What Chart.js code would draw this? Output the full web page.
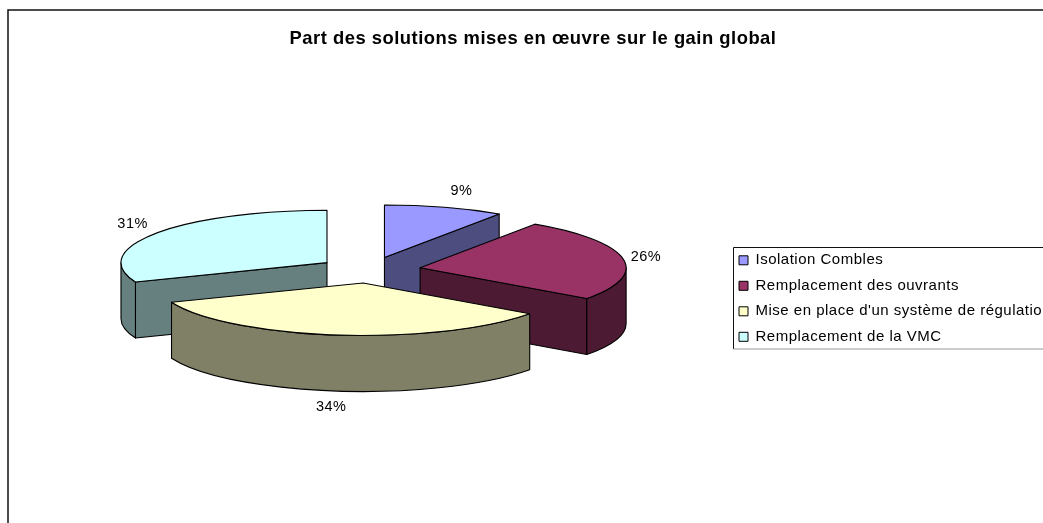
<!DOCTYPE html>
<html>
<head>
<meta charset="utf-8">
<title>Part des solutions mises en œuvre sur le gain global</title>
<script src="https://cdn.jsdelivr.net/npm/chart.js@4"></script>
<style>
html, body { margin: 0; padding: 0; background: #fff; overflow: hidden; }
canvas { display: block; }
</style>
</head>
<body>
<canvas id="pie3d" width="1043" height="523"></canvas>
<script>
var titleText = "Part des solutions mises en œuvre sur le gain global";
var categories = ["Isolation Combles", "Remplacement des ouvrants", "Mise en place d'un système de régulation", "Remplacement de la VMC"];
var percents = [9.4, 25.6, 34, 31];
var topColors = ["#9999FF", "#993366", "#FFFFCC", "#CCFFFF"];
var sideColors = ["#4D4D80", "#4D1A33", "#808066", "#668080"];

// look of the tilted pie
var squash = 0.2546;
var depth = 56;
var explode = 51.4;
var pieRadius = 206;
var labelShift = [[17, -16], [23, -2], [-6, 72], [-24, -9]];

function drawFrame(ctx) {
  ctx.save();
  ctx.strokeStyle = "#111";
  ctx.lineWidth = 1.5;
  ctx.beginPath();
  ctx.moveTo(8, 523);
  ctx.lineTo(8, 10);
  ctx.lineTo(1043, 10);
  ctx.stroke();
  ctx.restore();
}

function drawLegendBox(ctx) {
  ctx.save();
  ctx.lineWidth = 1;
  ctx.strokeStyle = "#111";
  ctx.beginPath();
  ctx.moveTo(733.5, 349);
  ctx.lineTo(733.5, 247.5);
  ctx.lineTo(1043, 247.5);
  ctx.stroke();
  ctx.strokeStyle = "#999";
  ctx.beginPath();
  ctx.moveTo(733.5, 349);
  ctx.lineTo(1043, 349);
  ctx.stroke();
  ctx.restore();
}

// screen y of a point on the flat pie, tilted around the pie centre
function tilt(y, cy) {
  return cy + (y - cy) * squash;
}

function drawSlice(ctx, arc, i, cy) {
  var mid = (arc.startAngle + arc.endAngle) / 2;
  var off = arc.options.offset;
  var ax = arc.x + Math.cos(mid) * off;
  var ay = arc.y + Math.sin(mid) * off;
  var r = arc.outerRadius;
  var apexY = tilt(ay, cy);

  ctx.strokeStyle = "#000";
  ctx.lineWidth = 1.1;
  ctx.lineJoin = "round";
  ctx.fillStyle = sideColors[i];

  // flat cut faces that look toward the viewer
  [arc.startAngle, arc.endAngle].forEach(function (a, n) {
    var visible = n === 0 ? Math.cos(a) < -0.001 : Math.cos(a) > 0.001;
    if (!visible) return;
    var ex = ax + Math.cos(a) * r;
    var ey = tilt(ay + Math.sin(a) * r, cy);
    ctx.beginPath();
    ctx.moveTo(ax, apexY);
    ctx.lineTo(ex, ey);
    ctx.lineTo(ex, ey + depth);
    ctx.lineTo(ax, apexY + depth);
    ctx.closePath();
    ctx.fill();
    ctx.stroke();
  });

  // outer wall, only the front half of the circle (0 to PI on the canvas)
  var sweep = [];
  for (var k = -1; k <= 1; k++) {
    var from = Math.max(arc.startAngle, k * 2 * Math.PI);
    var to = Math.min(arc.endAngle, k * 2 * Math.PI + Math.PI);
    if (to > from) sweep.push([from, to]);
  }
  sweep.forEach(function (s) {
    ctx.beginPath();
    ctx.ellipse(ax, apexY, r, r * squash, 0, s[0], s[1]);
    ctx.ellipse(ax, apexY + depth, r, r * squash, 0, s[1], s[0], true);
    ctx.closePath();
    ctx.fill();
    ctx.stroke();
  });

  // top of the slice
  ctx.fillStyle = topColors[i];
  ctx.beginPath();
  ctx.moveTo(ax, apexY);
  ctx.ellipse(ax, apexY, r, r * squash, 0, arc.startAngle, arc.endAngle);
  ctx.closePath();
  ctx.fill();
  ctx.stroke();
}

var pie3d = {
  id: "pie3d",
  beforeDraw: function (chart) {
    // the original text is set a little wide
    chart.ctx.letterSpacing = "0.5px";
    drawFrame(chart.ctx);
    drawLegendBox(chart.ctx);
  },
  afterLayout: function (chart) {
    // pie centre and legend sit at fixed places, like the spreadsheet chart
    var area = chart.chartArea;
    area.left = 100; area.right = 639; area.top = 60; area.bottom = 480;
    area.width = 539; area.height = 420;
    var lg = chart.legend;
    lg.left = 728.5; lg.top = 242.3; lg.right = 1043; lg.bottom = 523;
  },
  beforeDatasetsDraw: function (chart) {
    var ctx = chart.ctx;
    var meta = chart.getDatasetMeta(0);
    var cy = (chart.chartArea.top + chart.chartArea.bottom) / 2;
    var order = meta.data.map(function (arc, i) {
      var mid = (arc.startAngle + arc.endAngle) / 2;
      return { i: i, y: arc.y + Math.sin(mid) * arc.options.offset };
    }).sort(function (a, b) { return a.y - b.y; });

    ctx.save();
    order.forEach(function (o) {
      drawSlice(ctx, meta.data[o.i], o.i, cy);
    });

    ctx.fillStyle = "#000";
    ctx.font = '14.5px "Liberation Sans"';
    ctx.textAlign = "center";
    ctx.textBaseline = "middle";
    meta.data.forEach(function (arc, i) {
      var mid = (arc.startAngle + arc.endAngle) / 2;
      var off = arc.options.offset;
      var rimX = arc.x + Math.cos(mid) * (off + arc.outerRadius);
      var rimY = tilt(arc.y + Math.sin(mid) * (off + arc.outerRadius), cy);
      ctx.fillText(Math.round(percents[i]) + "%", rimX + labelShift[i][0], rimY + labelShift[i][1]);
    });
    ctx.restore();
    return false;
  }
};

Chart.defaults.font.family = '"Liberation Sans"';
Chart.defaults.color = "#000";

var myPie = new Chart(document.getElementById("pie3d"), {
  type: "pie",
  data: {
    labels: categories,
    datasets: [{
      data: percents,
      backgroundColor: topColors,
      borderColor: "#000",
      borderWidth: 1,
      offset: explode
    }]
  },
  options: {
    responsive: false,
    animation: false,
    radius: pieRadius,
    layout: { padding: { left: 23 } },
    events: [],
    plugins: {
      title: {
        display: true,
        text: titleText,
        font: { size: 18.4, weight: "bold" },
        padding: { top: 28, bottom: 10 }
      },
      legend: {
        position: "right",
        align: "start",
        maxWidth: 304,
        labels: {
          boxWidth: 9,
          boxHeight: 9,
          padding: 10.5,
          font: { size: 15 }
        }
      },
      tooltip: { enabled: false }
    }
  },
  plugins: [pie3d]
});
</script>
</body>
</html>
